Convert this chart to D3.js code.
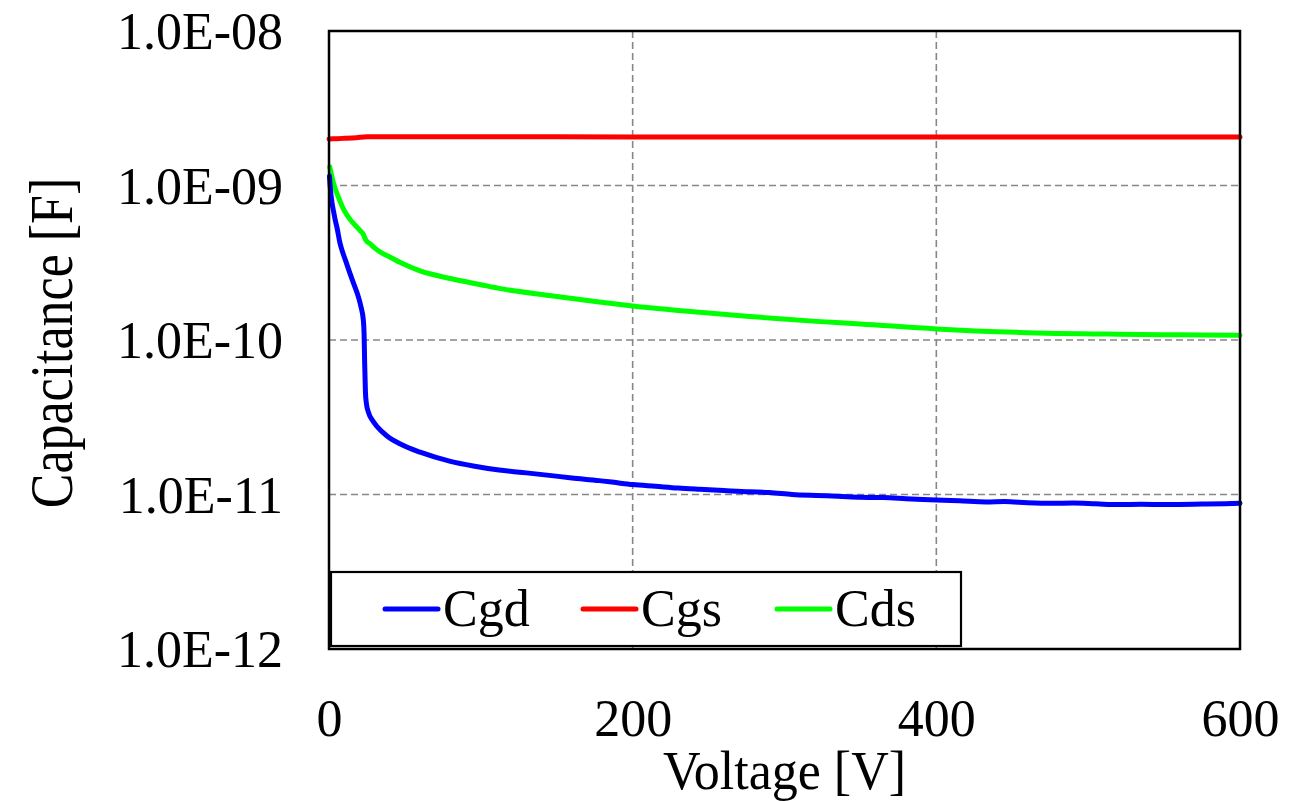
<!DOCTYPE html>
<html>
<head>
<meta charset="utf-8">
<script src="https://cdn.jsdelivr.net/npm/d3@7"></script>
<style>
  html, body { margin: 0; padding: 0; background: #fff; }
  svg { display: block; }
  text { font-family: "Liberation Serif", "DejaVu Serif", serif; fill: #000; }
</style>
</head>
<body>
<svg id="chart" width="1301" height="801"></svg>
<script>
// ---- data ----
const xTicks = [0, 200, 400, 600];
const yTicks = [1e-12, 1e-11, 1e-10, 1e-9, 1e-8];
const yTickLabels = ["1.0E-12", "1.0E-11", "1.0E-10", "1.0E-09", "1.0E-08"];
const seriesNames = ["Cgd", "Cgs", "Cds"];

const cgsV = [0, 5, 10, 18, 25, 50, 100, 200, 300, 400, 500, 600];
const cgsC = [2.0e-9, 2.01e-9, 2.02e-9, 2.04e-9, 2.07e-9, 2.07e-9, 2.07e-9, 2.06e-9, 2.06e-9, 2.06e-9, 2.06e-9, 2.06e-9];

const cdsV = [0.5, 2, 4, 6, 8, 10, 13, 16, 19, 21, 22.5, 23.5, 24.5, 27, 30, 35, 40, 47, 60, 80, 100, 113, 145, 178, 200, 244, 277, 321, 350, 400, 455, 520, 560, 600];
const cdsC = [1.32e-9, 1.13e-9, 9.6e-10, 8.5e-10, 7.6e-10, 6.9e-10, 6.2e-10, 5.7e-10, 5.3e-10, 5.05e-10, 4.85e-10, 4.6e-10, 4.4e-10, 4.2e-10, 3.95e-10, 3.65e-10, 3.45e-10, 3.17e-10, 2.8e-10, 2.5e-10, 2.28e-10, 2.15e-10, 1.94e-10, 1.76e-10, 1.66e-10, 1.51e-10, 1.42e-10, 1.32e-10, 1.27e-10, 1.18e-10, 1.12e-10, 1.09e-10, 1.08e-10, 1.075e-10];

const cgdV = [0.3, 1, 2, 3, 4, 5.5, 7.2, 9, 11, 13.8, 16.5, 19.3, 21, 22.6, 23.1, 23.5, 24, 24.6, 26, 28.5, 32, 38, 47, 60, 80, 95, 112, 130, 145, 160, 178, 190, 200, 215, 230, 244, 260, 277, 290, 305, 321, 335, 350, 365, 380, 400, 415, 433, 445, 460, 476, 490, 505, 520, 535, 550, 560, 575, 590, 600];
const cgdC = [1.15e-9, 9.3e-10, 7.7e-10, 6.8e-10, 6.05e-10, 5.2e-10, 4.25e-10, 3.7e-10, 3.25e-10, 2.7e-10, 2.28e-10, 1.91e-10, 1.65e-10, 1.35e-10, 1.1e-10, 7.0e-11, 4.6e-11, 3.9e-11, 3.4e-11, 3.03e-11, 2.73e-11, 2.4e-11, 2.12e-11, 1.88e-11, 1.64e-11, 1.53e-11, 1.44e-11, 1.38e-11, 1.33e-11, 1.28e-11, 1.23e-11, 1.19e-11, 1.16e-11, 1.13e-11, 1.1e-11, 1.08e-11, 1.06e-11, 1.04e-11, 1.03e-11, 1.0e-11, 9.85e-12, 9.75e-12, 9.6e-12, 9.55e-12, 9.4e-12, 9.2e-12, 9.1e-12, 8.95e-12, 9.0e-12, 8.85e-12, 8.77e-12, 8.8e-12, 8.7e-12, 8.6e-12, 8.65e-12, 8.6e-12, 8.62e-12, 8.68e-12, 8.72e-12, 8.77e-12];

// ---- layout ----
const L = 329, R = 1240, T = 31, B = 649;
const svg = d3.select("#chart");
const x = d3.scaleLinear().domain([0, 600]).range([L, R]);
const y = d3.scaleLog().domain([1e-12, 1e-8]).range([B, T]);

// grid
const grid = svg.append("g").attr("stroke", "#878787").attr("stroke-width", 1.6).attr("stroke-dasharray", "7,4");
grid.selectAll("line.h").data(yTicks.filter(v => v > 1e-12 && v < 1e-8)).enter().append("line")
  .attr("x1", L).attr("x2", R).attr("y1", d => y(d)).attr("y2", d => y(d));
grid.selectAll("line.v").data(xTicks.filter(v => v > 0 && v < 600)).enter().append("line")
  .attr("y1", T).attr("y2", B).attr("x1", d => x(d)).attr("x2", d => x(d));

// axes (labels only; frame drawn separately)
const yAxis = d3.axisLeft(y).tickValues(yTicks).tickSize(0).tickPadding(46)
  .tickFormat((d, i) => yTickLabels[i]);
const gy = svg.append("g").attr("transform", `translate(${L},0)`).call(yAxis);
gy.select(".domain").remove();
gy.selectAll("text").attr("font-size", 52).attr("font-family", "Liberation Serif").attr("dy", "0.34em");

const xAxis = d3.axisBottom(x).tickValues(xTicks).tickSize(0).tickPadding(50).tickFormat(d3.format("d"));
const gx = svg.append("g").attr("transform", `translate(0,${B})`).call(xAxis);
gx.select(".domain").remove();
gx.selectAll("text").attr("font-size", 52).attr("font-family", "Liberation Serif");

// lines
const line = d3.line().x(d => x(d[0])).y(d => y(d[1])).curve(d3.curveMonotoneX);
const zip = (a, b) => a.map((v, i) => [v, b[i]]);
const series = [
  { name: "Cgs", data: zip(cgsV, cgsC), color: "#ff0000" },
  { name: "Cds", data: zip(cdsV, cdsC), color: "#00ff00" },
  { name: "Cgd", data: zip(cgdV, cgdC), color: "#0000ff" }
];
svg.append("g").selectAll("path").data(series).enter().append("path")
  .attr("d", d => line(d.data)).attr("fill", "none").attr("stroke", d => d.color)
  .attr("stroke-width", 5).attr("stroke-linejoin", "round").attr("stroke-linecap", "round");

// frame
svg.append("rect").attr("x", L).attr("y", T).attr("width", R - L).attr("height", B - T)
  .attr("fill", "none").attr("stroke", "#000").attr("stroke-width", 2.5);

// legend
const lg = svg.append("g");
lg.append("rect").attr("x", 331).attr("y", 572).attr("width", 630).attr("height", 74)
  .attr("fill", "#fff").attr("stroke", "#000").attr("stroke-width", 2.2);
const legendColors = { Cgd: "#0000ff", Cgs: "#ff0000", Cds: "#00ff00" };
const legendX = [385, 583, 777];
seriesNames.forEach((n, i) => {
  lg.append("line").attr("x1", legendX[i]).attr("x2", legendX[i] + 53).attr("y1", 609).attr("y2", 609)
    .attr("stroke", legendColors[n]).attr("stroke-width", 5).attr("stroke-linecap", "round");
  lg.append("text").attr("x", legendX[i] + 58).attr("y", 626).attr("font-size", 52).text(n);
});

// titles
svg.append("text").attr("transform", `translate(${(L + R) / 2},789) scale(1,1.06)`).attr("text-anchor", "middle")
  .attr("font-size", 52).text("Voltage [V]");
svg.append("text").attr("transform", "translate(72,343) rotate(-90) scale(1,1.18)").attr("text-anchor", "middle")
  .attr("font-size", 52).text("Capacitance [F]");
</script>
</body>
</html>
